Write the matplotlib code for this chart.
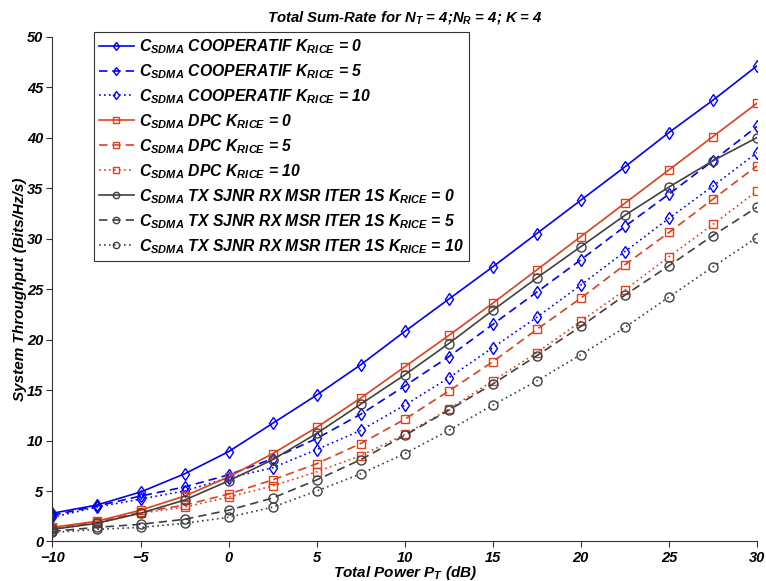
import matplotlib
matplotlib.use("Agg")
import matplotlib.pyplot as plt

plt.rcParams['font.family'] = ['Liberation Sans', 'DejaVu Sans']
plt.rcParams['font.weight'] = 'bold'
plt.rcParams['font.style'] = 'italic'
plt.rcParams['mathtext.fontset'] = 'custom'
plt.rcParams['mathtext.rm'] = 'Liberation Sans:bold:italic'
plt.rcParams['mathtext.it'] = 'Liberation Sans:bold:italic'
plt.rcParams['mathtext.bf'] = 'Liberation Sans:bold:italic'

# Transmit power (dB)
power_db = [-10, -7.5, -5, -2.5, 0, 2.5, 5, 7.5, 10, 12.5, 15, 17.5, 20, 22.5, 25, 27.5, 30]

# Sum-rate (Bits/Hz/s) for each scheme and Rice factor
coop_k0 = [2.8, 3.6, 4.9, 6.7, 8.9, 11.7, 14.5, 17.5, 20.8, 24.0, 27.2, 30.5, 33.8, 37.1, 40.5, 43.7, 47.1]
coop_k5 = [2.6, 3.5, 4.5, 5.4, 6.6, 8.2, 10.2, 12.6, 15.4, 18.3, 21.5, 24.7, 27.9, 31.2, 34.4, 37.7, 41.1]
coop_k10 = [2.4, 3.4, 4.2, 5.0, 6.3, 7.3, 9.1, 11.0, 13.5, 16.2, 19.2, 22.2, 25.4, 28.7, 32.0, 35.2, 38.5]
dpc_k0 = [1.4, 2.0, 3.1, 4.5, 6.4, 8.7, 11.3, 14.2, 17.3, 20.4, 23.6, 26.9, 30.2, 33.5, 36.8, 40.1, 43.4]
dpc_k5 = [1.3, 1.9, 2.9, 3.6, 4.7, 6.1, 7.7, 9.7, 12.1, 14.9, 17.8, 21.0, 24.1, 27.4, 30.6, 33.9, 37.2]
dpc_k10 = [1.2, 1.8, 2.8, 3.4, 4.4, 5.5, 6.9, 8.5, 10.6, 13.1, 15.9, 18.7, 21.8, 24.9, 28.2, 31.4, 34.7]
sjnr_k0 = [1.2, 1.8, 2.8, 4.1, 6.0, 8.1, 10.7, 13.6, 16.5, 19.6, 22.9, 26.1, 29.2, 32.3, 35.1, 37.7, 40.0]
sjnr_k5 = [1.0, 1.4, 1.7, 2.2, 3.1, 4.3, 6.1, 8.1, 10.5, 13.0, 15.6, 18.4, 21.3, 24.4, 27.3, 30.3, 33.1]
sjnr_k10 = [0.9, 1.2, 1.4, 1.8, 2.4, 3.4, 5.0, 6.7, 8.7, 11.0, 13.5, 15.9, 18.5, 21.2, 24.2, 27.2, 30.1]

labels = [
    r"C$_{SDMA}$ COOPERATIF K$_{RICE}$ = 0",
    r"C$_{SDMA}$ COOPERATIF K$_{RICE}$ = 5",
    r"C$_{SDMA}$ COOPERATIF K$_{RICE}$ = 10",
    r"C$_{SDMA}$ DPC K$_{RICE}$ = 0",
    r"C$_{SDMA}$ DPC K$_{RICE}$ = 5",
    r"C$_{SDMA}$ DPC K$_{RICE}$ = 10",
    r"C$_{SDMA}$ TX SJNR RX MSR ITER 1S K$_{RICE}$ = 0",
    r"C$_{SDMA}$ TX SJNR RX MSR ITER 1S K$_{RICE}$ = 5",
    r"C$_{SDMA}$ TX SJNR RX MSR ITER 1S K$_{RICE}$ = 10",
]

BLUE = '#0000ff'
RED = '#e0401c'
GREY = '#404040'
SOLID = '-'
DASHED = (0, (5, 3))
DOTTED = (0, (1, 2))

series = [
    (coop_k0, BLUE, SOLID, 'd', 6.5),
    (coop_k5, BLUE, DASHED, 'd', 6.5),
    (coop_k10, BLUE, DOTTED, 'd', 6.5),
    (dpc_k0, RED, SOLID, 's', 5.5),
    (dpc_k5, RED, DASHED, 's', 5.5),
    (dpc_k10, RED, DOTTED, 's', 5.5),
    (sjnr_k0, GREY, SOLID, 'o', 6.5),
    (sjnr_k5, GREY, DASHED, 'o', 6.5),
    (sjnr_k10, GREY, DOTTED, 'o', 6.5),
]

fig = plt.figure(figsize=(7.66, 5.81), dpi=100)
ax = fig.add_axes([0.0685, 0.068, 0.9197, 0.869])

for (vals, col, ls, mk, ms), lab in zip(series, labels):
    ax.plot(power_db, vals, color=col, linestyle=ls, linewidth=1.2,
            marker=mk, markersize=ms, markerfacecolor='none',
            markeredgecolor=col, markeredgewidth=1.0, label=lab)

ax.set_xlim(-10, 30)
ax.set_ylim(0, 50)
ax.set_xticks(range(-10, 31, 5))
ax.set_yticks(range(0, 51, 5))
for side in ('top', 'right'):
    ax.spines[side].set_visible(False)
for side in ('left', 'bottom'):
    ax.spines[side].set_color('#333333')
    ax.spines[side].set_linewidth(0.8)
ax.tick_params(direction='out', length=4, width=0.8, color='#333333',
               labelsize=10.5, pad=2.5)
for t in ax.get_xticklabels() + ax.get_yticklabels():
    t.set_fontweight('bold')
    t.set_fontstyle('italic')

ax.set_title(r"Total Sum-Rate for N$_T$ = 4;N$_R$ = 4; K = 4",
             fontsize=10.7, fontweight='bold', style='italic', pad=11)
ax.set_xlabel(r"Total Power P$_T$ (dB)", fontsize=11, fontweight='bold',
              style='italic')
ax.xaxis.set_label_coords(0.5, -0.044)
ax.set_ylabel("System Throughput (Bits/Hz/s)", fontsize=11, fontweight='bold',
              style='italic')
ax.yaxis.set_label_coords(-0.036, 0.5)

leg = ax.legend(loc='upper left', bbox_to_anchor=(94 / 766, 1 - 32 / 581),
                bbox_transform=fig.transFigure, borderaxespad=0,
                fancybox=False, framealpha=1, edgecolor='#333333',
                prop={'size': 11.3, 'weight': 'bold', 'style': 'italic'},
                handlelength=2.2, handletextpad=0.35, labelspacing=0.4,
                borderpad=0.32, markerscale=0.7)
leg.get_frame().set_linewidth(0.8)

fig.savefig('out.png', dpi=100)
